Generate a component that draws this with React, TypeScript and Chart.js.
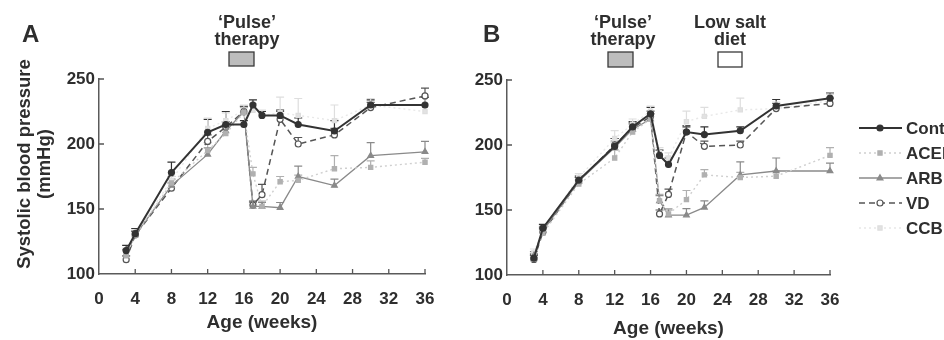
import React, { useEffect, useRef } from "react";
import { Chart, registerables } from "chart.js";
Chart.register(...registerables);

// ---------- data ----------
const weeks = [3, 4, 8, 12, 14, 16, 17, 18, 20, 22, 26, 30, 36];
const seriesNames = ["Cont", "ACEI", "ARB", "VD", "CCB"];
const xTickValues = [0, 4, 8, 12, 16, 20, 24, 28, 32, 36];
const yTickValues = [100, 150, 200, 250];

// Panel A
const contA = [118, 131, 178, 209, 215, 215, 230, 222, 222, 215, 210, 230, 230];
const contAErr = [4, 4, 8, 10, 10, 3, 4, 3, 4, 5, 8, 4, 6];
const aceiA = [114, 130, 170, 195, 208, 224, 177, 152, 171, 172, 181, 182, 186];
const aceiAErr = [4, 3, 5, 6, 5, 4, 5, 4, 4, 4, 10, 5, 3];
const arbA = [115, 130, 168, 192, 210, 225, 152, 152, 151, 175, 168, 191, 194];
const arbAErr = [4, 3, 5, 5, 5, 4, 3, 3, 4, 8, 5, 10, 8];
const vdA = [111, 130, 166, 202, 213, 225, 153, 161, 219, 200, 207, 228, 237];
const vdAErr = [3, 3, 4, 5, 4, 4, 3, 8, 6, 5, 5, 4, 6];
const ccbA = [116, 131, 172, 212, 218, 226, 226, 222, 224, 222, 218, 230, 225];
const ccbAErr = [4, 3, 6, 8, 6, 4, 5, 4, 12, 13, 12, 5, 12];

// Panel B
const contB = [113, 136, 173, 199, 214, 224, 192, 185, 210, 208, 211, 230, 236];
const contBErr = [3, 3, 3, 6, 4, 5, 4, 5, 4, 6, 3, 5, 4];
const aceiB = [112, 132, 170, 190, 210, 220, 157, 147, 158, 177, 175, 176, 192];
const aceiBErr = [3, 3, 3, 6, 4, 4, 5, 4, 7, 4, 4, 4, 6];
const arbB = [115, 134, 172, 198, 212, 220, 157, 146, 146, 152, 177, 180, 180];
const arbBErr = [3, 3, 3, 5, 4, 4, 4, 4, 5, 5, 10, 10, 6];
const vdB = [112, 133, 172, 200, 213, 222, 147, 162, 210, 199, 200, 228, 232];
const vdBErr = [3, 3, 3, 5, 4, 4, 3, 4, 5, 4, 3, 4, 4];
const ccbB = [117, 135, 175, 205, 216, 226, 194, 190, 218, 222, 227, 228, 234];
const ccbBErr = [3, 3, 3, 6, 4, 4, 4, 4, 8, 7, 9, 5, 5];

// ---------- styles ----------
type Sty = { color: string; width: number; dash: number[]; point: string; fill: string; radius: number; lineColor: string };
const STYLES: Record<string, Sty> = {
  Cont: { color: "#333333", lineColor: "#333333", width: 2, dash: [], point: "circle", fill: "#333333", radius: 3 },
  ACEI: { color: "#b0b0b0", lineColor: "#cfcfcf", width: 1.4, dash: [2, 3], point: "rect", fill: "#b0b0b0", radius: 3 },
  ARB: { color: "#8a8a8a", lineColor: "#8a8a8a", width: 1.3, dash: [], point: "triangle", fill: "#8a8a8a", radius: 3.3 },
  VD: { color: "#555555", lineColor: "#555555", width: 1.5, dash: [6, 4], point: "circle", fill: "#ffffff", radius: 3 },
  CCB: { color: "#dedede", lineColor: "#e8e8e8", width: 1.4, dash: [2, 3], point: "rect", fill: "#e2e2e2", radius: 3 },
};

const FONT = "'Liberation Sans', Arial, sans-serif";
const TEXT = "#2e2e2e";

function drawMarker(ctx: CanvasRenderingContext2D, s: Sty, x: number, y: number) {
  ctx.save();
  ctx.setLineDash([]);
  ctx.fillStyle = s.fill;
  ctx.strokeStyle = s.color;
  ctx.lineWidth = 1.2;
  ctx.beginPath();
  const r = s.radius;
  if (s.point === "circle") ctx.arc(x, y, r, 0, Math.PI * 2);
  else if (s.point === "rect") ctx.rect(x - r * 0.7, y - r * 0.7, r * 1.4, r * 1.4);
  else {
    ctx.moveTo(x, y - r);
    ctx.lineTo(x + r * 0.9, y + r * 0.6);
    ctx.lineTo(x - r * 0.9, y + r * 0.6);
    ctx.closePath();
  }
  ctx.fill();
  ctx.stroke();
  ctx.restore();
}

const errorBarPlugin = {
  id: "errorBars",
  beforeDatasetsDraw(chart: any) {
    const ctx = chart.ctx;
    const ys = chart.scales.y;
    chart.data.datasets.forEach((ds: any, i: number) => {
      const meta = chart.getDatasetMeta(i);
      ctx.save();
      ctx.strokeStyle = ds.pointBorderColor;
      ctx.lineWidth = 1.2;
      ctx.setLineDash([]);
      meta.data.forEach((pt: any, j: number) => {
        const v = ds.data[j].y;
        const top = ys.getPixelForValue(v + ds.errors[j]);
        ctx.beginPath();
        ctx.moveTo(pt.x, pt.y);
        ctx.lineTo(pt.x, top);
        ctx.moveTo(pt.x - 4, top);
        ctx.lineTo(pt.x + 4, top);
        ctx.stroke();
      });
      ctx.restore();
    });
  },
};

function makeDecor(panel: "A" | "B") {
  return {
    id: "decor" + panel,
    afterDraw(chart: any) {
      const ctx: CanvasRenderingContext2D = chart.ctx;
      const xs = chart.scales.x;
      const ys = chart.scales.y;
      const { left, bottom } = chart.chartArea;
      ctx.save();
      // inward ticks
      ctx.strokeStyle = "#555";
      ctx.lineWidth = 1.3;
      ctx.beginPath();
      xTickValues.slice(1).forEach((v) => {
        const px = xs.getPixelForValue(v);
        ctx.moveTo(px, bottom);
        ctx.lineTo(px, bottom - 5);
      });
      yTickValues.slice(1).forEach((v) => {
        const py = ys.getPixelForValue(v);
        ctx.moveTo(left, py);
        ctx.lineTo(left + 5, py);
      });
      ctx.stroke();

      ctx.fillStyle = TEXT;
      ctx.textBaseline = "alphabetic";
      // panel letter
      ctx.textAlign = "left";
      ctx.font = `bold 24px ${FONT}`;
      ctx.fillText(panel, panel === "A" ? 22 : 13, 42);

      const drawNote = (l1: string, l2: string, cx: number, bx: number, bw: number, bh: number, fill: string) => {
        ctx.font = `bold 18px ${FONT}`;
        ctx.textAlign = "center";
        ctx.fillStyle = TEXT;
        ctx.fillText(l1, cx, 28);
        ctx.fillText(l2, cx, 45);
        ctx.fillStyle = fill;
        ctx.strokeStyle = "#3a3a3a";
        ctx.lineWidth = 1.3;
        ctx.fillRect(bx, 52, bw, bh);
        ctx.strokeRect(bx, 52, bw, bh);
      };

      if (panel === "A") {
        drawNote("\u2018Pulse\u2019", "therapy", 247, 229, 25, 14, "#bdbdbd");
        // y title
        ctx.save();
        ctx.translate(25, 164);
        ctx.rotate(-Math.PI / 2);
        ctx.textAlign = "center";
        ctx.textBaseline = "middle";
        ctx.fillStyle = TEXT;
        ctx.font = `bold 18.5px ${FONT}`;
        ctx.fillText("Systolic blood pressure", 0, 0);
        ctx.fillText("(mmHg)", 0, 20);
        ctx.restore();
      } else {
        drawNote("\u2018Pulse\u2019", "therapy", 153, 138, 25, 15, "#bdbdbd");
        drawNote("Low salt", "diet", 260, 248, 24, 15, "#ffffff");
        // legend
        const legY = [128, 153, 178, 203, 228];
        seriesNames.forEach((name, k) => {
          const s = STYLES[name];
          const y = legY[k];
          ctx.save();
          ctx.strokeStyle = s.lineColor;
          ctx.lineWidth = s.width;
          ctx.setLineDash(s.dash);
          ctx.beginPath();
          ctx.moveTo(389, y);
          ctx.lineTo(432, y);
          ctx.stroke();
          ctx.restore();
          drawMarker(ctx, s, 410, y);
          ctx.fillStyle = TEXT;
          ctx.textAlign = "left";
          ctx.textBaseline = "middle";
          ctx.font = `bold 17px ${FONT}`;
          ctx.fillText(name, 436, y + 1);
        });
      }
      ctx.restore();
    },
  };
}

function makeConfig(panel: "A" | "B"): any {
  const isA = panel === "A";
  const vals = isA ? [contA, aceiA, arbA, vdA, ccbA] : [contB, aceiB, arbB, vdB, ccbB];
  const errs = isA ? [contAErr, aceiAErr, arbAErr, vdAErr, ccbAErr] : [contBErr, aceiBErr, arbBErr, vdBErr, ccbBErr];
  const datasets = seriesNames.map((name, k) => {
    const s = STYLES[name];
    return {
      label: name,
      data: weeks.map((w, i) => ({ x: w, y: vals[k][i] })),
      errors: errs[k],
      borderColor: s.lineColor,
      borderWidth: s.width,
      borderDash: s.dash,
      pointStyle: s.point,
      pointRadius: s.radius,
      pointBackgroundColor: s.fill,
      pointBorderColor: s.color,
      pointBorderWidth: 1.2,
      tension: 0,
      fill: false,
      clip: false,
    };
  });
  const yWidth = isA ? 99 : 37;
  const xHeight = isA ? 66 : 65;
  const tickFont = { family: FONT, size: 17, weight: "bold" as const };
  return {
    type: "line",
    data: { datasets },
    options: {
      animation: false,
      responsive: false,
      layout: { padding: { left: 0, top: isA ? 79 : 80, right: isA ? 45 : 114, bottom: 0 } },
      plugins: { legend: { display: false }, tooltip: { enabled: false } },
      scales: {
        x: {
          type: "linear",
          min: 0,
          max: 36,
          grid: { display: false, drawTicks: false },
          border: { display: true, color: "#5a5a5a", width: 1.5 },
          afterBuildTicks: (s: any) => {
            s.ticks = xTickValues.map((v) => ({ value: v }));
          },
          afterFit: (s: any) => {
            s.height = xHeight;
          },
          ticks: { autoSkip: false, maxRotation: 0, padding: 15, font: tickFont, color: TEXT },
          title: {
            display: true,
            text: "Age (weeks)",
            color: TEXT,
            font: { family: FONT, size: 19, weight: "bold" },
            padding: { top: 0, bottom: isA ? 6 : 0 },
          },
        },
        y: {
          type: "linear",
          min: 100,
          max: 250,
          grid: { display: false, drawTicks: false },
          border: { display: true, color: "#5a5a5a", width: 1.5 },
          afterBuildTicks: (s: any) => {
            s.ticks = yTickValues.map((v) => ({ value: v }));
          },
          afterFit: (s: any) => {
            s.width = yWidth;
          },
          ticks: { padding: 4, font: tickFont, color: TEXT },
        },
      },
    },
    plugins: [errorBarPlugin, makeDecor(panel)],
  };
}

function Panel({ panel, left, width }: { panel: "A" | "B"; left: number; width: number }) {
  const ref = useRef<HTMLCanvasElement | null>(null);
  useEffect(() => {
    if (!ref.current) return;
    const chart = new Chart(ref.current, makeConfig(panel));
    return () => chart.destroy();
  }, [panel]);
  return (
    <canvas
      ref={ref}
      width={width}
      height={340}
      style={{ position: "absolute", left, top: 0, width, height: 340 }}
    />
  );
}

export default function App() {
  return (
    <div
      style={{
        position: "fixed",
        left: 0,
        top: 0,
        width: 944,
        height: 340,
        background: "#ffffff",
        overflow: "hidden",
      }}
    >
      <Panel panel="A" left={0} width={470} />
      <Panel panel="B" left={470} width={474} />
    </div>
  );
}
